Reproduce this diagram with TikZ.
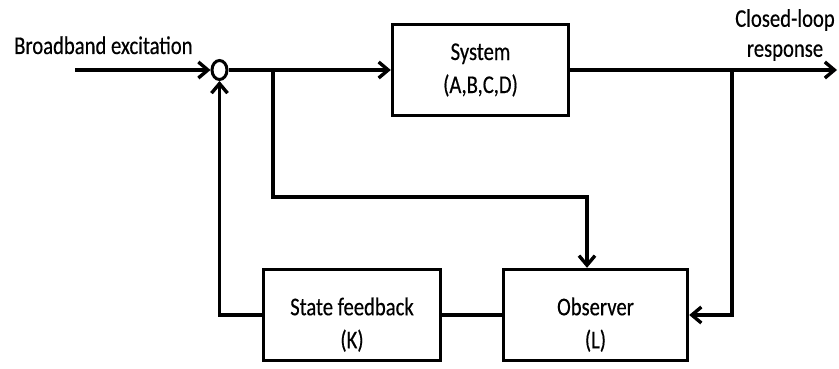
\documentclass[tikz,border=0pt]{standalone}
\usepackage{fontspec}
\setmainfont{Carlito}[FakeStretch=0.81,FakeBold=0.4]
\usetikzlibrary{arrows.meta,shapes.geometric}
\begin{document}
\begin{tikzpicture}[x=1pt,y=-1pt,
  line width=3.4pt,
  tip/.style={-{Straight Barb[length=9.5pt,width=16pt]}},
  blk/.style={draw, rectangle, minimum height=91pt, inner sep=0pt, align=center,
              font=\fontsize{25.5}{33}\selectfont},
  lbl/.style={inner sep=0pt, font=\fontsize{25.5}{30}\selectfont}]
\useasboundingbox (0,0) rectangle (839,369);
\node[blk, minimum width=176pt] (sys) at (480.5,70) {System\\(A,B,C,D)};
\node[blk, minimum width=177pt] (sf) at (352,315) {\rule{0pt}{37pt}State feedback\\(K)};
\node[blk, minimum width=184pt] (obs) at (595.5,315) {\rule{0pt}{37pt}Observer\\(L)};
\node[draw, ellipse, minimum width=15pt, minimum height=19pt, inner sep=0pt, line width=3pt] (sum) at (219.5,70) {};
\node[lbl, anchor=base west] (in) at (12.5,54) {Broadband excitation};
\node[lbl, align=center] (out) at (785,35) {Closed-loop\\response};
\coordinate (start) at (75,70);
\coordinate (end) at (837,70);
\coordinate (b1) at (273,70);
\coordinate (b2) at (587,197);
\coordinate (b3) at (732,70);
\draw[tip] (start) -- (sum.west);
\draw[tip] (sum.east) -- (sys.west);
\draw[tip] (sys.east) -- (end);
\draw[tip] (b1) |- (b2) -- (b2 |- obs.north);
\draw[tip] (b3) |- (obs.east);
\draw (sf.east) -- (obs.west);
\draw[tip] (sf.west) -| (sum.south);
\end{tikzpicture}
\end{document}
